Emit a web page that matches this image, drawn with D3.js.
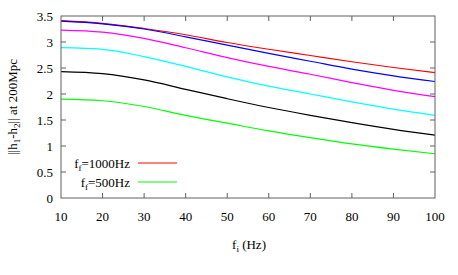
<!DOCTYPE html>
<html>
<head>
<meta charset="utf-8">
<script src="https://cdn.jsdelivr.net/npm/d3@7"></script>
<style>
  body { margin: 0; background: #fff; }
</style>
</head>
<body>
<div id="app"></div>
<script>
// f_i values (Hz)
var freqs = [10, 20, 30, 40, 50, 60, 70, 80, 90, 100];

// ||h1-h2|| per curve
var redVals     = [3.41, 3.36, 3.26, 3.14, 2.99, 2.86, 2.74, 2.62, 2.51, 2.41];
var blueVals    = [3.40, 3.35, 3.25, 3.10, 2.94, 2.78, 2.63, 2.48, 2.35, 2.24];
var magentaVals = [3.23, 3.19, 3.07, 2.89, 2.70, 2.53, 2.38, 2.22, 2.07, 1.95];
var cyanVals    = [2.89, 2.86, 2.72, 2.53, 2.33, 2.15, 2.00, 1.85, 1.71, 1.59];
var blackVals   = [2.43, 2.39, 2.27, 2.09, 1.91, 1.74, 1.59, 1.45, 1.32, 1.21];
var greenVals   = [1.90, 1.87, 1.76, 1.59, 1.44, 1.29, 1.16, 1.04, 0.94, 0.85];

var xTicks = [10, 20, 30, 40, 50, 60, 70, 80, 90, 100];
var yTicks = [0, 0.5, 1, 1.5, 2, 2.5, 3, 3.5];

var series = [
    { values: redVals,     color: '#ff0000' },
    { values: blueVals,    color: '#0000ff' },
    { values: magentaVals, color: '#ff00ff' },
    { values: cyanVals,    color: '#00ffff' },
    { values: blackVals,   color: '#000000' },
    { values: greenVals,   color: '#00ff00' }
];

var legendItems = [
    { label: '1000Hz', color: '#ff0000' },
    { label: '500Hz',  color: '#00ff00' }
];

var chart = {
    width: 458,
    height: 275,
    left: 61,
    right: 435,
    top: 16,
    bottom: 198
};

var svg = d3.select('#app')
    .append('svg')
    .attr('width', chart.width)
    .attr('height', chart.height)
    .attr('font-family', '"Liberation Serif", "Times New Roman", Times, serif')
    .attr('fill', '#000');

var x = d3.scaleLinear().domain([10, 100]).range([chart.left, chart.right]);
var y = d3.scaleLinear().domain([0, 3.5]).range([chart.bottom, chart.top]);

var frameColor = '#606060';
var tickLen = 5;

// ticks (mirrored on top and right)
var axisG = svg.append('g');
xTicks.forEach(function(t) {
    if (t === 10 || t === 100) { return; }
    axisG.append('line').attr('x1', x(t)).attr('x2', x(t))
        .attr('y1', chart.bottom).attr('y2', chart.bottom - tickLen)
        .attr('stroke', frameColor).attr('stroke-width', 1);
    axisG.append('line').attr('x1', x(t)).attr('x2', x(t))
        .attr('y1', chart.top).attr('y2', chart.top + tickLen)
        .attr('stroke', frameColor).attr('stroke-width', 1);
});
yTicks.forEach(function(t) {
    if (t === 0 || t === 3.5) { return; }
    axisG.append('line').attr('x1', chart.left).attr('x2', chart.left + tickLen)
        .attr('y1', y(t)).attr('y2', y(t))
        .attr('stroke', frameColor).attr('stroke-width', 1);
    axisG.append('line').attr('x1', chart.right).attr('x2', chart.right - tickLen)
        .attr('y1', y(t)).attr('y2', y(t))
        .attr('stroke', frameColor).attr('stroke-width', 1);
});

// tick labels
xTicks.forEach(function(t) {
    svg.append('text').attr('x', x(t)).attr('y', chart.bottom + 23)
        .attr('text-anchor', 'middle').attr('font-size', 13)
        .text(d3.format('d')(t));
});
yTicks.forEach(function(t) {
    svg.append('text').attr('x', chart.left - 8).attr('y', y(t) + 4.5)
        .attr('text-anchor', 'end').attr('font-size', 13)
        .text(t);
});

// curves
var line = d3.line()
    .x(function(d, i) { return x(freqs[i]); })
    .y(function(d) { return y(d); })
    .curve(d3.curveMonotoneX);

series.forEach(function(s) {
    svg.append('path')
        .attr('d', line(s.values))
        .attr('fill', 'none')
        .attr('stroke', s.color)
        .attr('stroke-width', 1.2);
});

// frame
svg.append('rect')
    .attr('x', chart.left).attr('y', chart.top)
    .attr('width', chart.right - chart.left).attr('height', chart.bottom - chart.top)
    .attr('fill', 'none').attr('stroke', frameColor).attr('stroke-width', 1);

// legend
legendItems.forEach(function(item, i) {
    var ly = 163 + i * 19;
    var t = svg.append('text').attr('x', 130).attr('y', ly + 4.5)
        .attr('text-anchor', 'end').attr('font-size', 13);
    t.append('tspan').text('f');
    t.append('tspan').attr('font-size', 9).attr('dy', 3).text('f');
    t.append('tspan').attr('dy', -3).text('=' + item.label);
    svg.append('line').attr('x1', 138).attr('x2', 177)
        .attr('y1', ly).attr('y2', ly)
        .attr('stroke', item.color).attr('stroke-width', 1.2);
});

// axis titles
var xt = svg.append('text').attr('x', 249).attr('y', 249)
    .attr('text-anchor', 'middle').attr('font-size', 13);
xt.append('tspan').text('f');
xt.append('tspan').attr('font-size', 9).attr('dy', 3).text('i');
xt.append('tspan').attr('dy', -3).text(' (Hz)');

var yt = svg.append('text')
    .attr('transform', 'translate(17,' + ((chart.top + chart.bottom) / 2) + ') rotate(-90)')
    .attr('text-anchor', 'middle').attr('font-size', 13);
yt.append('tspan').text('||h');
yt.append('tspan').attr('font-size', 9).attr('dy', 3).text('1');
yt.append('tspan').attr('dy', -3).text('-h');
yt.append('tspan').attr('font-size', 9).attr('dy', 3).text('2');
yt.append('tspan').attr('dy', -3).text('|| at 200Mpc');
</script>
</body>
</html>
